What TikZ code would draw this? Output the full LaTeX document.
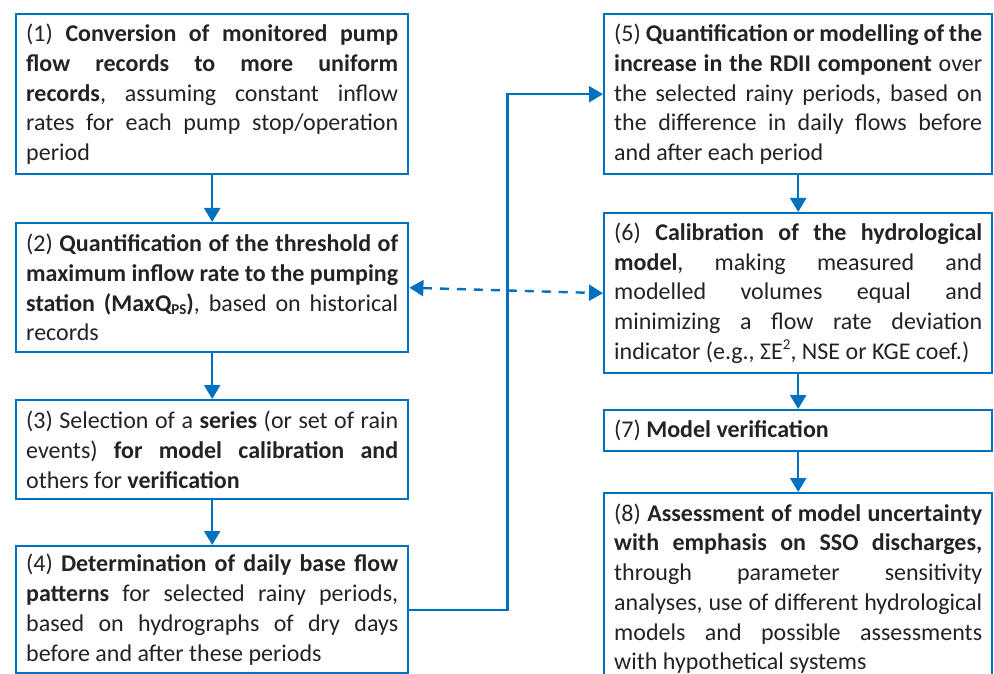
\documentclass[tikz,border=0pt]{standalone}
\usepackage{fontspec}
\setmainfont{Carlito}
\usetikzlibrary{arrows.meta}
\definecolor{bblue}{RGB}{0,112,192}
\definecolor{tgray}{RGB}{35,35,35}
\hbadness=10000
\hfuzz=3pt
\newcommand{\subps}{\raisebox{-0.12em}{\fontsize{15}{15}\selectfont PS}}
\newcommand{\suptwo}{\raisebox{0.4em}{\fontsize{15}{15}\selectfont 2}}
\newcommand{\boxfont}{\fontsize{24}{29.7}\selectfont\frenchspacing
  \spaceskip=0.226em plus 2em minus 0.19em\relax
  \hyphenpenalty=10000\relax\exhyphenpenalty=10000\relax
  \pretolerance=-1\relax\tolerance=10000\relax}
\begin{document}
\begin{tikzpicture}[x=1pt,y=-1pt,
  box/.style={draw=bblue, line width=2.4pt, anchor=north west, inner xsep=10pt, inner ysep=0pt,
    font=\boxfont, align=justify, text=tgray, fill=white},
  lbox/.style={box, text width=372pt},
  rbox/.style={box, text width=368pt},
  arr/.style={draw=bblue, line width=2.4pt, -{Triangle[width=16pt,length=14pt]}},
  darr/.style={draw=bblue, line width=2.4pt, dash pattern=on 9pt off 8pt,
    {Triangle[width=16pt,length=14pt]}-{Triangle[width=16pt,length=14pt]}}
]
\useasboundingbox (0,0) rectangle (994,674);
\clip (0,0) rectangle (994,674);
\node[lbox, minimum height=160pt] (b1) at (15,13) {(1) \textbf{Conversion of monitored pump}\linebreak \textbf{flow records to more uniform}\linebreak \textbf{records}, assuming constant inflow\linebreak rates for each pump stop/operation\linebreak period};
\node[lbox, minimum height=129pt] (b2) at (15,222) {(2) \textbf{Quantification of the threshold of}\linebreak \textbf{maximum inflow rate to the pumping}\linebreak \textbf{station (MaxQ\subps)}, based on historical\linebreak records};
\node[lbox, minimum height=99pt] (b3) at (15,399) {(3) Selection of a \textbf{series} (or set of rain\linebreak events) \textbf{for model calibration and}\linebreak others for \textbf{verification}};
\node[lbox, minimum height=127pt] (b4) at (15,545) {(4) \textbf{Determination of daily base flow}\linebreak \textbf{patterns} for selected rainy periods,\linebreak based on hydrographs of dry days\linebreak before and after these periods};
\node[rbox, minimum height=160pt] (b5) at (603,13) {(5) \textbf{Quantification or modelling of the}\linebreak \textbf{increase in the RDII component} over\linebreak the selected rainy periods, based on\linebreak the difference in daily flows before\linebreak and after each period};
\node[rbox, minimum height=160pt] (b6) at (603,212) {(6) \textbf{Calibration of the hydrological}\linebreak \textbf{model}, making measured and\linebreak modelled volumes equal and\linebreak minimizing a flow rate deviation\linebreak indicator (e.g., ΣE\suptwo, NSE or KGE coef.)};
\node[rbox, minimum height=41pt] (b7) at (603,409) {(7) \textbf{Model verification}};
\node[rbox, minimum height=191pt] (b8) at (603,492) {(8) \textbf{Assessment of model uncertainty}\linebreak \textbf{with emphasis on SSO discharges,}\linebreak through parameter sensitivity\linebreak analyses, use of different hydrological\linebreak models and possible assessments\linebreak with hypothetical systems};
\draw[arr] (b1.south) -- (b2.north);
\draw[arr] (b2.south) -- (b3.north);
\draw[arr] (b3.south) -- (b4.north);
\draw[arr] (b5.south) -- (b6.north);
\draw[arr] (b6.south) -- (b7.north);
\draw[arr] (b7.south) -- (b8.north);
\draw[arr] (b4.east) -- ++(98,0) |- (b5.west);
\draw[darr] (b2.east) -- (b6.west);
\end{tikzpicture}
\end{document}
